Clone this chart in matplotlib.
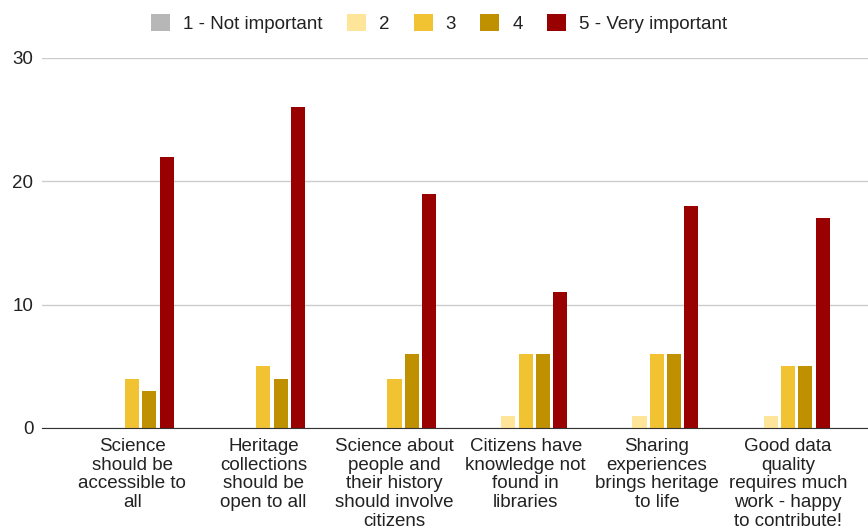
import numpy as np
import matplotlib.pyplot as plt

plt.rcParams['font.family'] = ['Liberation Sans', 'DejaVu Sans']

statements = [
    "Science\nshould be\naccessible to\nall",
    "Heritage\ncollections\nshould be\nopen to all",
    "Science about\npeople and\ntheir history\nshould involve\ncitizens",
    "Citizens have\nknowledge not\nfound in\nlibraries",
    "Sharing\nexperiences\nbrings heritage\nto life",
    "Good data\nquality\nrequires much\nwork - happy\nto contribute!",
]
levels = ["1 - Not important", "2", "3", "4", "5 - Very important"]
colors = ["#b7b7b7", "#ffe599", "#f1c232", "#bf9000", "#990000"]

not_important = [0, 0, 0, 0, 0, 0]
two = [0, 0, 0, 1, 1, 1]
three = [4, 5, 4, 6, 6, 5]
four = [3, 4, 6, 6, 6, 5]
very_important = [22, 26, 19, 11, 18, 17]
counts = [not_important, two, three, four, very_important]

fig = plt.figure(figsize=(8.68, 5.31), dpi=100)
ax = fig.add_axes([0.048, 0.194, 0.952, 0.697])

x = np.arange(len(statements))
step = 0.132
width = 0.107
for i, (vals, col, lab) in enumerate(zip(counts, colors, levels)):
    ax.bar(x + (i - 2) * step, vals, width, color=col, label=lab, zorder=3)

ax.set_xlim(-0.69, 5.61)
ax.set_ylim(0, 30)
ax.set_yticks([0, 10, 20, 30])
ax.yaxis.grid(True, color='#cccccc', linewidth=1, zorder=0)
ax.tick_params(axis='y', length=0, pad=6, labelsize=13.5, labelcolor='#222222')
ax.set_xticks(x)
ax.set_xticklabels(statements, fontsize=13.5, linespacing=1.14, color='#222222')
ax.tick_params(axis='x', length=0, pad=7)
for s in ['top', 'right', 'left']:
    ax.spines[s].set_visible(False)
ax.spines['bottom'].set_color('#333333')
ax.spines['bottom'].set_zorder(4)

fig.legend(loc='upper center', bbox_to_anchor=(0.506, 1.005), ncol=5, frameon=False,
           fontsize=13.5, handlelength=1.0, handleheight=1.0, columnspacing=1.3,
           handletextpad=0.7, labelcolor='#222222')

fig.savefig('out.png', dpi=100)
